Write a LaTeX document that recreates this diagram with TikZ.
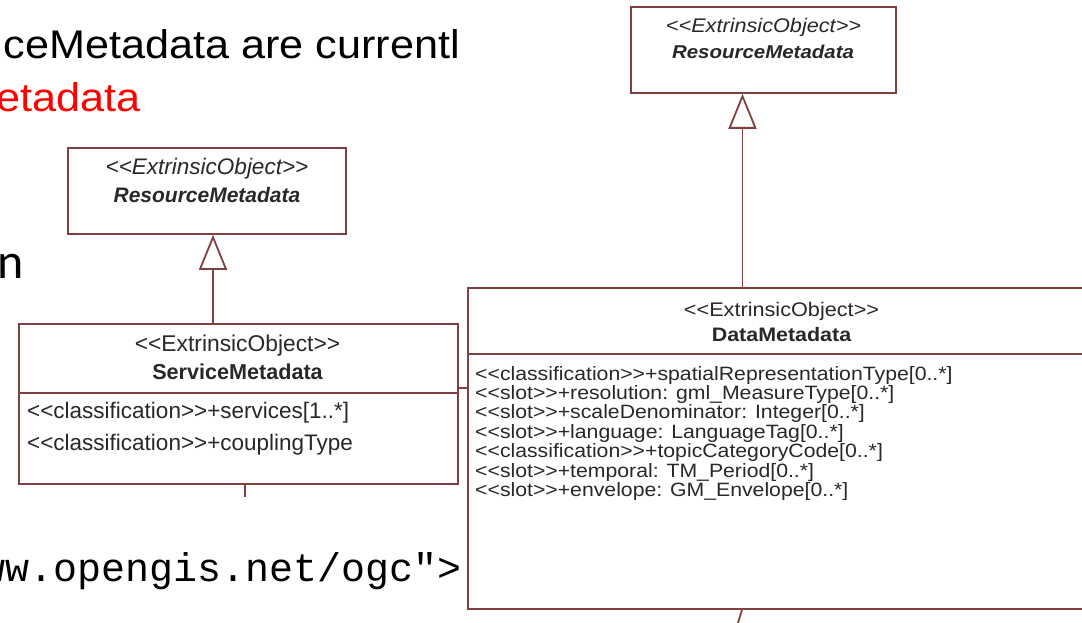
\documentclass[tikz,border=0pt]{standalone}
\usepackage{fontspec}
\setmainfont[Ligatures=TeXOff]{Liberation Sans}
\newfontfamily\boxfont[Ligatures=TeXOff,FakeStretch=1.1]{Liberation Sans}
\newfontfamily\slidefont[Ligatures=TeXOff,FakeStretch=1.08]{Liberation Sans}
\newfontfamily\plainfont[Ligatures=TeXOff]{Liberation Sans}
\newfontfamily\monofont[Ligatures=TeXOff]{Liberation Mono}
\newfontfamily\calfont[Ligatures=TeXOff]{Carlito}
\usetikzlibrary{arrows.meta}
\definecolor{umlborder}{RGB}{128,64,64}
\definecolor{umltext}{RGB}{40,40,40}
\begin{document}
\begin{tikzpicture}[x=1pt,y=-1pt,
  umlbox/.style={draw=umlborder, line width=1.8pt, fill=none, inner sep=0pt},
  umlline/.style={draw=umlborder, line width=1.8pt},
  txt/.style={inner sep=0pt, text=umltext},
  slide/.style={inner sep=0pt, text=black}]
\useasboundingbox (0,0) rectangle (1082,623);
\clip (0,0) rectangle (1082,623);
\fill[white] (0,0) rectangle (1082,623);

% slide text (cut off at the left)
\node[slide, anchor=base east, font=\slidefont\fontsize{40}{48}\selectfont] (l1) at (460,59) {ceMetadata are currentl};
\node[slide, anchor=base west, text=red, font=\slidefont\fontsize{40}{48}\selectfont] (l2) at (-4,112) {etadata};
\node[slide, anchor=base west, font=\calfont\fontsize{50}{60}\selectfont] (l3) at (-3,278) {n};
\node[slide, anchor=base east, font=\monofont\fontsize{40}{48}\selectfont] (l4) at (462,581) {ww.opengis.net/ogc">};

% boxes
\node[umlbox, anchor=north west, minimum width=278pt, minimum height=86pt] (rmL) at (67,147) {};
\node[umlbox, anchor=north west, minimum width=439pt, minimum height=160pt] (sm) at (18,323) {};
\node[umlbox, anchor=north west, minimum width=265pt, minimum height=86pt] (rmR) at (630,6) {};
\node[umlbox, anchor=north west, minimum width=700pt, minimum height=321pt] (dm) at (467,287) {};

% dividers
\draw[umlline] (sm.west |- 0,393) -- (sm.east |- 0,393);
\draw[umlline] (dm.west |- 0,354) -- (dm.east |- 0,354);

% texts: left ResourceMetadata
\node[txt, anchor=base, font=\plainfont\itshape\fontsize{22.5}{27}\selectfont] (rmLs) at (207,175) {<<ExtrinsicObject>>};
\node[txt, anchor=base, font=\plainfont\bfseries\itshape\fontsize{21}{25}\selectfont] (rmLn) at (207,203) {ResourceMetadata};

% ServiceMetadata
\node[txt, anchor=base, font=\plainfont\fontsize{22.8}{27}\selectfont] (sms) at (237.5,351) {<<ExtrinsicObject>>};
\node[txt, anchor=base, font=\plainfont\bfseries\fontsize{21.6}{26}\selectfont] (smn) at (237.5,379) {ServiceMetadata};
\node[txt, anchor=base west, font=\plainfont\fontsize{22.5}{27}\selectfont] (sma1) at (27,418) {<<classification>>+services[1..*]};
\node[txt, anchor=base west, font=\plainfont\fontsize{22.5}{27}\selectfont] (sma2) at (27,450) {<<classification>>+couplingType};

% right ResourceMetadata
\node[txt, anchor=base, font=\boxfont\itshape\fontsize{19.7}{24}\selectfont] (rmRs) at (763.5,33) {<<ExtrinsicObject>>};
\node[txt, anchor=base, font=\boxfont\bfseries\itshape\fontsize{18.6}{22}\selectfont] (rmRn) at (763,59) {ResourceMetadata};

% DataMetadata
\node[txt, anchor=base, font=\boxfont\fontsize{19.7}{24}\selectfont] (dms) at (781.5,316) {<<ExtrinsicObject>>};
\node[txt, anchor=base, font=\boxfont\bfseries\fontsize{19.5}{24}\selectfont] (dmn) at (781.5,341) {DataMetadata};
\foreach \t [count=\i from 0] in {%
  {<<classification>>+spatialRepresentationType[0..*]},
  {<<slot>>+resolution: gml\_MeasureType[0..*]},
  {<<slot>>+scaleDenominator: Integer[0..*]},
  {<<slot>>+language: LanguageTag[0..*]},
  {<<classification>>+topicCategoryCode[0..*]},
  {<<slot>>+temporal: TM\_Period[0..*]},
  {<<slot>>+envelope: GM\_Envelope[0..*]}}
  \node[txt, anchor=base west, font=\boxfont\fontsize{19.3}{23}\selectfont] (dma\i) at (475,380+19.4*\i) {\t};

% generalizations
\draw[umlline, -{Triangle[open, length=35pt, width=28pt]}] (213,0 |- sm.north) -- (213,0 |- rmL.south);
\draw[umlline, -{Triangle[open, length=35pt, width=28pt]}] (742.5,0 |- dm.north) -- (742.5,0 |- rmR.south);

% cut connectors
\coordinate (smtick) at (245,497);
\draw[umlline] (smtick |- sm.south) -- (smtick);
\draw[umlline] (sm.east |- 0,388) -- (dm.west |- 0,388);
\coordinate (dmtick) at (737,626);
\draw[umlline] (742,0 |- dm.south) -- (dmtick);
\end{tikzpicture}
\end{document}
